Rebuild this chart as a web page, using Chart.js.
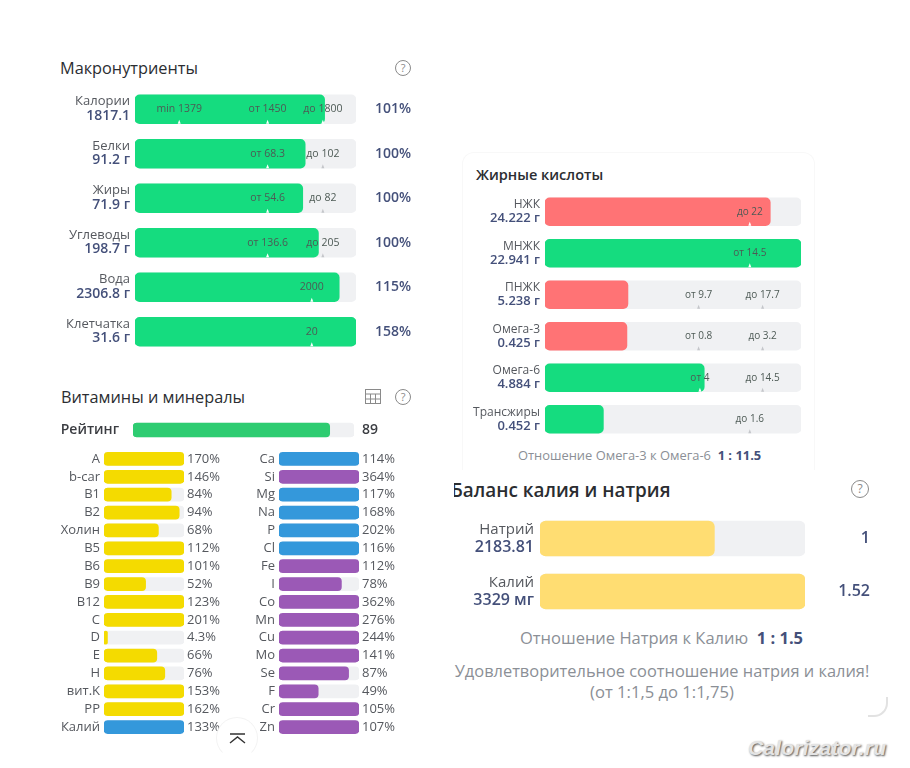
<!DOCTYPE html>
<html lang="ru">
<head>
<meta charset="utf-8">
<title>Макронутриенты</title>
<script src="https://cdn.jsdelivr.net/npm/chart.js@4"></script>
<style>
  html, body { margin: 0; padding: 0; background: #fff; }
  body { position: relative; width: 910px; height: 768px; overflow: hidden; font-family: 'Open Sans', sans-serif; }
  canvas { position: absolute; }
  .txt { position: absolute; white-space: nowrap; line-height: 1; }
  .title { font-weight: 500; color: #2b2d31; }
  .bold { font-weight: 600; }
  .help { position: absolute; box-sizing: border-box; border: 1px solid #8a8a8a; border-radius: 50%; color: #8a8a8a; text-align: center; }
  .gray { color: #8b8f96; }
  .navy { color: #44507a; font-weight: 600; }
  .card { position: absolute; left: 462px; top: 152px; width: 353px; height: 318px; box-sizing: border-box; border: 1px solid #f8f8f8; border-bottom: 0; border-radius: 12px 12px 0 0; }
  .corner { position: absolute; left: 868px; top: 697px; width: 20px; height: 20px; box-sizing: border-box; border-right: 2px solid #e2e2e2; border-bottom: 2px solid #e2e2e2; border-radius: 0 0 14px 0; }
  .up { position: absolute; left: 216px; top: 717px; width: 42px; height: 42px; box-sizing: border-box; border-radius: 50%; background: #fff; border: 1px solid #f3f3f3; border-bottom-color: #fff; }
  .mark { position: absolute; left: 748px; top: 736px; font: italic bold 21px 'Liberation Sans', sans-serif; color: #e4e4e4; text-shadow: 1px 1px 2px #555; letter-spacing: .2px; }
</style>
</head>
<body>
<div class="card"></div>
<div class="corner"></div>

<div class="txt title" style="left:60px;top:60px;font-size:16.3px">Макронутриенты</div>
<div class="help" style="left:395px;top:60px;width:16px;height:16px;font-size:11px;line-height:14px">?</div>

<div class="txt title" style="left:61px;top:389px;font-size:16.3px">Витамины и минералы</div>
<svg style="position:absolute;left:365px;top:389px" width="16" height="15" fill="none" stroke="#8a8a8a">
  <rect x=".5" y=".5" width="15" height="14"/><path d="M.5 5h15M.5 10h15M5.5 5v9M10.5 5v9"/>
</svg>
<div class="help" style="left:395px;top:389px;width:16px;height:16px;font-size:11px;line-height:14px">?</div>

<div class="txt title bold" style="left:476px;top:168px;font-size:14.5px">Жирные кислоты</div>
<div class="txt" style="left:518px;top:449px;font-size:12.9px"><span class="gray">Отношение Омега-3 к Омега-6</span>&nbsp; <span class="navy" style="font-weight:700">1 : 11.5</span></div>

<div style="position:absolute;left:454px;top:481px;width:230px;height:24px;overflow:hidden">
  <div class="txt title bold" style="left:-3px;top:0;font-size:18.9px">Баланс калия и натрия</div>
</div>
<div class="help" style="left:851px;top:480px;width:18px;height:18px;font-size:12px;line-height:16px">?</div>
<div class="txt" style="left:520px;top:630px;font-size:16.5px"><span class="gray">Отношение Натрия к Калию</span>&nbsp; <span class="navy" style="font-weight:700">1 : 1.5</span></div>
<div class="txt gray" style="left:454px;width:416px;top:663px;font-size:16.4px;text-align:center">Удовлетворительное соотношение натрия и калия!</div>
<div class="txt gray" style="left:454px;width:416px;top:684px;font-size:16.6px;text-align:center">(от 1:1,5 до 1:1,75)</div>

<div class="mark">Calorizator.ru</div>

<canvas id="macro"></canvas>
<canvas id="rating"></canvas>
<canvas id="vitamins"></canvas>
<canvas id="minerals"></canvas>
<canvas id="fatty"></canvas>
<canvas id="balance"></canvas>

<div class="up">
  <svg style="position:absolute;left:12px;top:15px" width="18" height="12" fill="none" stroke="#333" stroke-width="1.4">
    <path d="M1 1h15M1 10l7.5-6 7.5 6"/>
  </svg>
</div>

<script>
// --- macronutrients ---
const macroNames = ['Калории', 'Белки', 'Жиры', 'Углеводы', 'Вода', 'Клетчатка'];
const macroAmounts = ['1817.1', '91.2 г', '71.9 г', '198.7 г', '2306.8 г', '31.6 г'];
const macroFill = [85.8, 77, 75.9, 83, 92.4, 100];
const macroPercents = ['101%', '100%', '100%', '100%', '115%', '158%'];
const macroMarkAt = [[20, 60, 85], [60, 85], [60, 85], [60, 85], [80], [80]];
const macroMarkText = [['min 1379', 'от 1450', 'до 1800'], ['от 68.3', 'до 102'], ['от 54.6', 'до 82'], ['от 136.6', 'до 205'], ['2000'], ['20']];

// --- rating ---
const ratingLabel = ['Рейтинг'];
const ratingValue = [89];

// --- vitamins ---
const vitaminNames = ['A', 'b-car', 'B1', 'B2', 'Холин', 'B5', 'B6', 'B9', 'B12', 'C', 'D', 'E', 'H', 'вит.K', 'PP', 'Калий'];
const vitaminValues = [170, 146, 84, 94, 68, 112, 101, 52, 123, 201, 4.3, 66, 76, 153, 162, 133];
const vitaminText = ['170%', '146%', '84%', '94%', '68%', '112%', '101%', '52%', '123%', '201%', '4.3%', '66%', '76%', '153%', '162%', '133%'];

// --- minerals ---
const mineralNames = ['Ca', 'Si', 'Mg', 'Na', 'P', 'Cl', 'Fe', 'I', 'Co', 'Mn', 'Cu', 'Mo', 'Se', 'F', 'Cr', 'Zn'];
const mineralValues = [114, 364, 117, 168, 202, 116, 112, 78, 362, 276, 244, 141, 87, 49, 105, 107];
const mineralText = ['114%', '364%', '117%', '168%', '202%', '116%', '112%', '78%', '362%', '276%', '244%', '141%', '87%', '49%', '105%', '107%'];
const mineralIsBlue = ['Ca', 'Mg', 'Na', 'P', 'Cl'];

// --- fatty acids ---
const fattyNames = ['НЖК', 'МНЖК', 'ПНЖК', 'Омега-3', 'Омега-6', 'Трансжиры'];
const fattyAmounts = ['24.222 г', '22.941 г', '5.238 г', '0.425 г', '4.884 г', '0.452 г'];
const fattyFill = [88, 100, 32.4, 32, 62.2, 22.8];
const fattyBad = [true, false, true, true, false, false];
const fattyMarkAt = [[80], [80], [60, 85], [60, 85], [60.5, 85], [80]];
const fattyMarkText = [['до 22'], ['от 14.5'], ['от 9.7', 'до 17.7'], ['от 0.8', 'до 3.2'], ['от 4', 'до 14.5'], ['до 1.6']];

// --- potassium / sodium ---
const balanceNames = ['Натрий', 'Калий'];
const balanceAmounts = ['2183.81', '3329 мг'];
const balanceFill = [65.8, 100];
const balanceRatio = ['1', '1.52'];

const GREEN = '#15dc7f';
const RED = '#ff7375';
const TRACK = '#f0f1f3';
const YELLOW = '#f4db00';
const BLUE = '#3498db';
const PURPLE = '#9b59b6';
const PALE = '#ffdd72';
const LABEL = '#55585e';
const NAVY = '#44507a';
const FONT = "'Open Sans', sans-serif";

Chart.defaults.font.family = FONT;

// two-line row captions on the left of the bars
function rowCaptions(names, amounts, o) {
    return {
        id: 'rowCaptions',
        afterDraw(chart) {
            const ctx = chart.ctx;
            const x = chart.scales.x.left - o.gap;
            ctx.save();
            ctx.textAlign = 'right';
            ctx.textBaseline = 'middle';
            names.forEach((name, i) => {
                const y = chart.scales.y.getPixelForValue(i);
                ctx.fillStyle = LABEL;
                ctx.font = `${o.nameSize}px ${FONT}`;
                ctx.fillText(name, x, y - o.up);
                ctx.fillStyle = NAVY;
                ctx.font = `600 ${o.amountSize}px ${FONT}`;
                ctx.fillText(amounts[i], x, y + o.down);
            });
            ctx.restore();
        }
    };
}

// norm markers: notch at the bottom of the bar and its text above
function normMarks(markAt, markText, fill, barH, size) {
    return {
        id: 'normMarks',
        afterDatasetsDraw(chart) {
            const ctx = chart.ctx;
            ctx.save();
            ctx.textAlign = 'center';
            ctx.textBaseline = 'middle';
            markAt.forEach((marks, i) => {
                const y = chart.scales.y.getPixelForValue(i);
                marks.forEach((pos, k) => {
                    const x = chart.scales.x.getPixelForValue(pos);
                    const bottom = y + barH / 2;
                    ctx.fillStyle = pos <= fill[i] ? '#ffffff' : '#c4c6ca';
                    ctx.beginPath();
                    ctx.moveTo(x - 1.5, bottom);
                    ctx.lineTo(x, bottom - 4);
                    ctx.lineTo(x + 1.5, bottom);
                    ctx.fill();
                    ctx.fillStyle = '#4d5a55';
                    ctx.font = `${size}px ${FONT}`;
                    ctx.fillText(markText[i][k], x, y);
                });
            });
            ctx.restore();
        }
    };
}

// pin an axis width and drop the vertical padding chart.js adds for tick labels
function pinAxis(width) {
    return s => {
        s.width = width;
        s.paddingTop = 0;
        s.paddingBottom = 0;
    };
}

// one panel: track bars behind, value bars on top
function panel(id, box, cfg) {
    const el = document.getElementById(id);
    el.style.left = box.x + 'px';
    el.style.top = box.y + 'px';
    el.width = box.w;
    el.height = box.h;

    const hasLeft = !!cfg.leftFont;
    const hasRight = !!cfg.rightLabels;

    return new Chart(el.getContext('2d'), {
        type: 'bar',
        data: {
            labels: cfg.labels,
            datasets: [
                { data: cfg.values, backgroundColor: cfg.colors, grouped: false, order: 1, barThickness: cfg.barH, borderRadius: cfg.radius, borderSkipped: false },
                { data: cfg.labels.map(() => 100), backgroundColor: TRACK, grouped: false, order: 2, barThickness: cfg.barH, borderRadius: cfg.radius, borderSkipped: false }
            ]
        },
        options: {
            indexAxis: 'y',
            responsive: false,
            animation: false,
            layout: { padding: cfg.padding || 0 },
            plugins: { legend: { display: false }, tooltip: { enabled: false } },
            scales: {
                x: { min: 0, max: 100, display: false },
                y: {
                    type: 'category',
                    labels: cfg.labels,
                    offset: true,
                    display: hasLeft,
                    grid: { display: false, drawTicks: false },
                    border: { display: false },
                    ticks: { autoSkip: false, padding: cfg.leftPad, color: cfg.leftColor || LABEL, font: cfg.leftFont },
                    afterFit: hasLeft ? pinAxis(cfg.leftW) : undefined
                },
                y2: {
                    type: 'category',
                    labels: cfg.rightLabels || [],
                    offset: true,
                    position: 'right',
                    display: hasRight,
                    grid: { display: false, drawTicks: false, drawOnChartArea: false },
                    border: { display: false },
                    ticks: { autoSkip: false, padding: cfg.rightPad, color: cfg.rightColor || LABEL, font: cfg.rightFont, crossAlign: cfg.rightAlign || 'near' },
                    afterFit: hasRight ? pinAxis(cfg.rightW) : undefined
                }
            }
        },
        plugins: cfg.plugins || []
    });
}

panel('macro', { x: 40, y: 87, w: 380, h: 267 }, {
    labels: macroNames, values: macroFill, colors: GREEN, barH: 29, radius: 5,
    padding: { left: 95 },
    rightLabels: macroPercents, rightW: 64, rightPad: 19, rightColor: NAVY, rightFont: { size: 14, weight: '600' },
    plugins: [
        rowCaptions(macroNames, macroAmounts, { gap: 5, nameSize: 13, amountSize: 14, up: 7.6, down: 6.4 }),
        normMarks(macroMarkAt, macroMarkText, macroFill, 29, 10.5)
    ]
});

panel('rating', { x: 50, y: 419, w: 340, h: 22 }, {
    labels: ratingLabel, values: ratingValue, colors: '#2ecc71', barH: 14, radius: 4,
    leftW: 83, leftPad: 14, leftColor: '#3b3d42', leftFont: { size: 14, weight: '600' },
    rightLabels: ['89'], rightW: 36, rightPad: 8, rightColor: '#3b3d42', rightFont: { size: 14, weight: '600' }
});

panel('vitamins', { x: 50, y: 450, w: 180, h: 286 }, {
    labels: vitaminNames,
    values: vitaminValues.map(v => Math.min(v, 100)),
    colors: vitaminNames.map(n => n === 'Калий' ? BLUE : YELLOW),
    barH: 13, radius: 4,
    leftW: 54, leftPad: 4, leftFont: { size: 13 },
    rightLabels: vitaminText, rightW: 46, rightPad: 3, rightFont: { size: 13 }
});

panel('minerals', { x: 225, y: 450, w: 180, h: 286 }, {
    labels: mineralNames,
    values: mineralValues.map(v => Math.min(v, 100)),
    colors: mineralNames.map(n => mineralIsBlue.includes(n) ? BLUE : PURPLE),
    barH: 13, radius: 4,
    leftW: 54, leftPad: 4, leftFont: { size: 13 },
    rightLabels: mineralText, rightW: 46, rightPad: 3, rightFont: { size: 13 }
});

panel('fatty', { x: 465, y: 191, w: 340, h: 249 }, {
    labels: fattyNames, values: fattyFill, colors: fattyBad.map(b => b ? RED : GREEN), barH: 28, radius: 5,
    padding: { left: 80, right: 4 },
    plugins: [
        rowCaptions(fattyNames, fattyAmounts, { gap: 5, nameSize: 12, amountSize: 13, up: 6.8, down: 7 }),
        normMarks(fattyMarkAt, fattyMarkText, fattyFill, 28, 10)
    ]
});

panel('balance', { x: 460, y: 512, w: 410, h: 106 }, {
    labels: balanceNames, values: balanceFill, colors: PALE, barH: 35, radius: 6,
    padding: { left: 80 },
    rightLabels: balanceRatio, rightW: 65, rightPad: 10, rightColor: NAVY, rightFont: { size: 16, weight: '600' }, rightAlign: 'far',
    plugins: [
        rowCaptions(balanceNames, balanceAmounts, { gap: 6, nameSize: 15, amountSize: 16, up: 8.3, down: 8.5 })
    ]
});
</script>
</body>
</html>
